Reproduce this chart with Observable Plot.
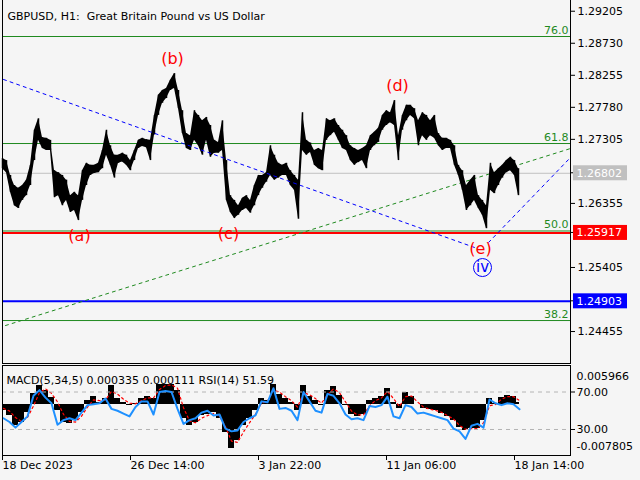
<!DOCTYPE html>
<html><head><meta charset="utf-8">
<script src="https://cdn.jsdelivr.net/npm/d3@7"></script>
<script src="https://cdn.jsdelivr.net/npm/@observablehq/plot@0.6"></script>
<style>
body{margin:0;background:#f5f5f5;}
#wrap{position:relative;width:640px;height:480px;overflow:hidden;background:#f5f5f5;}
#wrap svg{position:absolute;left:0;}
</style></head>
<body><div id="wrap"></div>
<script>
// ---------- DATA ----------
const titleText = "GBPUSD, H1:  Great Britain Pound vs US Dollar";
const indicatorText = "MACD(5,34,5) 0.000335 0.000111 RSI(14) 51.59";
const xTicks = [0, 128, 256, 384, 512];
const xLabels = ["18 Dec 2023", "26 Dec 14:00", "3 Jan 22:00", "11 Jan 06:00", "18 Jan 14:00"];
const yTicks = [1.29205, 1.28730, 1.28255, 1.27780, 1.27305, 1.26355, 1.25405, 1.24455];

// hourly bar highs / lows, sampled every 4 bars
const barHigh = [
1.2702,1.2699,1.2677,1.2662,1.2658,1.2662,1.2670,1.2692,1.2744,1.2761,
1.2733,1.2732,1.2729,1.2684,1.2681,1.2677,1.2670,1.2647,1.2652,1.2647,
1.2684,1.2695,1.2692,1.2692,1.2695,1.2714,1.2744,1.2721,1.2707,1.2707,
1.2710,1.2707,1.2699,1.2714,1.2729,1.2732,1.2730,1.2729,1.2766,1.2796,
1.2803,1.2806,1.2818,1.2828,1.2803,1.2773,1.2739,1.2736,1.2773,1.2766,
1.2758,1.2763,1.2751,1.2729,1.2726,1.2758,1.2699,1.2647,1.2640,1.2632,
1.2643,1.2647,1.2640,1.2662,1.2677,1.2677,1.2681,1.2721,1.2707,1.2695,
1.2692,1.2695,1.2684,1.2677,1.2670,1.2770,1.2729,1.2725,1.2714,1.2717,
1.2714,1.2761,1.2758,1.2761,1.2751,1.2744,1.2736,1.2721,1.2717,1.2714,
1.2717,1.2721,1.2736,1.2741,1.2747,1.2766,1.2773,1.2770,1.2788,1.2736,
1.2766,1.2781,1.2781,1.2776,1.2758,1.2770,1.2766,1.2758,1.2766,1.2739,
1.2732,1.2732,1.2729,1.2721,1.2692,1.2684,1.2662,1.2670,1.2677,1.2647,
1.2640,1.2632,1.2695,1.2681,1.2687,1.2692,1.2699,1.2704,1.2699,1.2687];
const barLow = [
1.2687,1.2681,1.2652,1.2632,1.2628,1.2640,1.2647,1.2662,1.2699,1.2729,
1.2717,1.2714,1.2714,1.2644,1.2647,1.2632,1.2640,1.2622,1.2625,1.2610,
1.2640,1.2662,1.2677,1.2680,1.2681,1.2687,1.2707,1.2692,1.2673,1.2695,
1.2697,1.2692,1.2684,1.2699,1.2717,1.2720,1.2718,1.2699,1.2737,1.2766,
1.2784,1.2791,1.2803,1.2806,1.2776,1.2739,1.2717,1.2714,1.2729,1.2721,
1.2707,1.2729,1.2704,1.2710,1.2710,1.2714,1.2640,1.2622,1.2613,1.2618,
1.2625,1.2628,1.2621,1.2632,1.2647,1.2658,1.2667,1.2677,1.2670,1.2673,
1.2677,1.2677,1.2662,1.2655,1.2612,1.2714,1.2707,1.2711,1.2692,1.2687,
1.2684,1.2729,1.2736,1.2741,1.2729,1.2717,1.2714,1.2699,1.2692,1.2696,
1.2699,1.2687,1.2714,1.2721,1.2726,1.2744,1.2751,1.2755,1.2751,1.2699,
1.2744,1.2758,1.2766,1.2761,1.2721,1.2736,1.2729,1.2736,1.2732,1.2721,
1.2714,1.2717,1.2717,1.2692,1.2677,1.2655,1.2625,1.2632,1.2640,1.2628,
1.2618,1.2598,1.2655,1.2650,1.2662,1.2673,1.2681,1.2684,1.2677,1.2647];

const fibLabels = ["76.0", "61.8", "50.0", "38.2"];
const fibPrices = [1.28830, 1.27243, 1.25946, 1.24618];
const currentPrice = 1.26802;
const redLevel = 1.25917;
const blueLevel = 1.24903;

const waveLabels = ["(a)", "(b)", "(c)", "(d)", "(e)"];
const waveBars = [77, 170, 226, 395, 478];
const wavePrices = [1.25879, 1.28504, 1.25909, 1.28103, 1.25686];
const circleLabel = "iv", circleBar = 480, circlePrice = 1.25404;

const blueDescBars = [1, 475], blueDescPrices = [1.28193, 1.25686];
const blueAscBars = [486, 568], blueAscPrices = [1.25775, 1.27036];
const greenBars = [3, 568], greenPrices = [1.24544, 1.27169];

// indicator, sampled every 6 bars
const macdHist = [
-0.00092,-0.00168,-0.00321,-0.00275,-0.00122,0.00168,0.00291,0.00214,0.00107,-0.00092,
-0.00275,-0.00291,-0.00245,-0.00122,0.00061,0.00122,0.00031,0.00092,0.00291,0.00092,
0.00031,-0.00015,0.00015,0.00092,0.00122,0.00092,0.00306,0.00306,0.00306,0.00214,
-0.00214,-0.00321,-0.00275,-0.00168,-0.00153,-0.00122,-0.00214,-0.00428,-0.00673,-0.00551,
-0.00321,-0.00214,-0.00092,0.00092,0.00061,0.00306,0.00153,0.00092,0.00031,-0.00092,
0.00291,0.00122,0.00061,-0.00015,0.00214,0.00275,0.00138,-0.00015,-0.00153,-0.00184,
-0.00153,0.00061,0.00092,0.00122,0.00245,0.00031,-0.00061,0.00184,0.00122,0,
-0.00061,-0.00077,-0.00092,-0.00138,-0.00184,-0.00245,-0.00352,-0.00398,-0.00367,-0.00367,
-0.00245,0.00092,0.00015,0.00107,0.00138,0.00122,0.00031];
const macdSignal = [
-0.00060,-0.00100,-0.00200,-0.00260,-0.00200,-0.00020,0.00180,0.00240,0.00170,0.00040,
-0.00150,-0.00260,-0.00270,-0.00180,-0.00040,0.00070,0.00060,0.00070,0.00200,0.00160,
0.00080,0.00020,0.00010,0.00060,0.00100,0.00100,0.00230,0.00290,0.00300,0.00250,
-0.00050,-0.00250,-0.00280,-0.00210,-0.00170,-0.00140,-0.00180,-0.00340,-0.00560,-0.00580,
-0.00420,-0.00280,-0.00150,0.00020,0.00050,0.00220,0.00190,0.00120,0.00060,-0.00040,
0.00180,0.00150,0.00090,0.00020,0.00150,0.00240,0.00180,0.00040,-0.00100,-0.00160,
-0.00160,-0.00020,0.00060,0.00100,0.00200,0.00090,-0.00030,0.00120,0.00130,0.00040,
-0.00040,-0.00070,-0.00090,-0.00120,-0.00170,-0.00220,-0.00320,-0.00380,-0.00370,-0.00370,
-0.00280,-0.00020,0.00000,0.00080,0.00120,0.00120,0.00060];
const rsi = [
42,38,32,38,44,66,72,64,58,35,
40,42,40,48,56,57,58,63,52,50,
47,44,54,60,60,46,70,71,70,52,
36,40,42,48,50,45,46,31,28,29,
38,42,45,60,59,74,52,53,50,40,
70,60,50,48,68,66,58,46,41,42,
40,55,54,56,65,44,42,56,54,47,
48,46,44,42,40,31,28,20,34,36,
32,62,58,56,58,57,51.59];
const macdMax = 0.005966, macdMin = -0.007805;
const rsiLevels = [70, 30];

// ---------- BUILD ----------
const green = "#1f8a1f";
const font = "DejaVu Sans, sans-serif";
const bars = barHigh.map((h, i) => ({i: i * 4, hi: h, lo: barLow[i]}));
const fib = fibLabels.map((l, i) => ({label: l, price: fibPrices[i]}));
const waves = waveLabels.map((l, i) => ({label: l, bar: waveBars[i], price: wavePrices[i]}));
const mk = (bs, ps) => bs.map((b, i) => ({bar: b, price: ps[i]}));
const ind = macdHist.map((m, i) => ({i: i * 6 + 1, m, s: macdSignal[i], r: rsi[i]}));

const baseStyle = {background: "transparent", fontFamily: font, fontSize: "11px", color: "black", overflow: "visible"};
const wrap = document.getElementById("wrap");

const main = Plot.plot({
  width: 640, height: 364,
  marginLeft: 2, marginRight: 70, marginTop: 0, marginBottom: 1,
  style: baseStyle,
  x: {domain: [0, 568], axis: null},
  y: {domain: [1.23981, 1.29364], axis: null},
  marks: [
    Plot.ruleY(fib, {y: "price", stroke: green, strokeWidth: 1}),
    Plot.text(fib, {x: 566, y: "price", text: "label", textAnchor: "end", lineAnchor: "bottom", dy: -3, fill: green, fontSize: 11}),
    Plot.ruleY([currentPrice], {stroke: "#c0c0c0", strokeWidth: 1}),
    Plot.ruleY([redLevel], {stroke: "#ff0000", strokeWidth: 2}),
    Plot.ruleY([blueLevel], {stroke: "#0000ff", strokeWidth: 2}),
    Plot.line(mk(greenBars, greenPrices), {x: "bar", y: "price", stroke: "#1f8a1f", strokeDasharray: "3,4", strokeWidth: 1}),
    Plot.areaY(bars, {x: "i", y1: "lo", y2: "hi", fill: "black"}),
    Plot.ruleX(bars, {x: "i", y1: "lo", y2: "hi", stroke: "black", strokeWidth: 1.5}),
    Plot.line(mk(blueDescBars, blueDescPrices), {x: "bar", y: "price", stroke: "#0000ff", strokeDasharray: "3,4", strokeWidth: 1}),
    Plot.line(mk(blueAscBars, blueAscPrices), {x: "bar", y: "price", stroke: "#0000ff", strokeDasharray: "3,4", strokeWidth: 1}),
    Plot.text(waves, {x: "bar", y: "price", text: "label", fill: "#ff0000", fontSize: 16}),
    Plot.dot([{bar: circleBar, price: circlePrice}], {x: "bar", y: "price", r: 9, stroke: "#0000ff", fill: "none", strokeWidth: 1}),
    Plot.text([{bar: circleBar, price: circlePrice, label: circleLabel}], {x: "bar", y: "price", text: "label", fill: "#0000ff", fontSize: 15}),
    Plot.axisY({anchor: "right", ticks: yTicks, tickFormat: d => d.toFixed(5), tickSize: 4, tickPadding: 3, fontSize: 11, label: null}),
    Plot.frame({anchor: "left", stroke: "black"}),
    Plot.frame({anchor: "right", stroke: "black"}),
    Plot.frame({anchor: "bottom", stroke: "black"}),
    Plot.text([titleText], {frameAnchor: "top-left", dx: 5, dy: 12, textAnchor: "start", fontSize: 11, fill: "black"})
  ]
});
main.style.top = "0px";
wrap.appendChild(main);

// price boxes on the right axis
const ys = main.scale("y");
const boxes = [
  {v: currentPrice, fill: "#c0c0c0"},
  {v: redLevel, fill: "#ff0000"},
  {v: blueLevel, fill: "#0000ff"}
];
const svgMain = d3.select(main);
boxes.forEach(b => {
  const y = ys.apply(b.v);
  const g = svgMain.append("g");
  g.append("line").attr("x1", 570).attr("x2", 574).attr("y1", y).attr("y2", y).attr("stroke", "black");
  g.append("rect").attr("x", 573).attr("y", y - 7.5).attr("width", 54).attr("height", 15).attr("fill", b.fill);
  g.append("text").attr("x", 576.5).attr("y", y).attr("dy", "0.35em").attr("fill", "white")
    .attr("text-anchor", "start").attr("font-family", font).attr("font-size", 11).text(b.v.toFixed(5));
});

// MACD overlay (behind RSI panel)
const macdPlot = Plot.plot({
  width: 640, height: 115,
  marginLeft: 2, marginRight: 70, marginTop: 2, marginBottom: 23,
  style: baseStyle,
  x: {domain: [0, 568], axis: null},
  y: {domain: [macdMin, macdMax], range: [92, 2], axis: null},
  marks: [
    Plot.areaY(ind, {x: "i", y1: 0, y2: "m", fill: "black", curve: "step"}),
    Plot.line(ind, {x: "i", y: "s", stroke: "#ff0000", strokeDasharray: "2,3", strokeWidth: 1.2}),
    Plot.text([macdMax.toFixed(6)], {frameAnchor: "top-right", dx: 6, dy: 7, textAnchor: "start", fontSize: 11}),
    Plot.text([macdMin.toFixed(6)], {frameAnchor: "bottom-right", dx: 6, dy: -6, textAnchor: "start", fontSize: 11})
  ]
});
macdPlot.style.top = "363px";
wrap.appendChild(macdPlot);

const rsiPlot = Plot.plot({
  width: 640, height: 115,
  marginLeft: 2, marginRight: 70, marginTop: 2, marginBottom: 23,
  style: baseStyle,
  x: {domain: [0, 568], axis: null},
  y: {domain: [0, 100], range: [94.1, 0.4], axis: null},
  marks: [
    Plot.ruleY(rsiLevels, {y: d => d, stroke: "#b4b4b4", strokeDasharray: "4,4"}),
    Plot.line(ind, {x: "i", y: "r", stroke: "#1e90ff", strokeWidth: 2}),
    Plot.axisY({anchor: "right", ticks: rsiLevels, tickFormat: d => d.toFixed(2), tickSize: 4, tickPadding: 2, fontSize: 11, label: null}),
    Plot.axisX({ticks: xTicks, tickFormat: d => xLabels[xTicks.indexOf(d)], textAnchor: "start", tickSize: 5, tickPadding: 1, fontSize: 11, label: null}),
    Plot.frame({stroke: "black"}),
    Plot.text([indicatorText], {frameAnchor: "top-left", dx: 4, dy: 11, textAnchor: "start", fontSize: 11, fill: "black"})
  ]
});
rsiPlot.style.top = "363px";
wrap.appendChild(rsiPlot);
</script>
</body></html>
